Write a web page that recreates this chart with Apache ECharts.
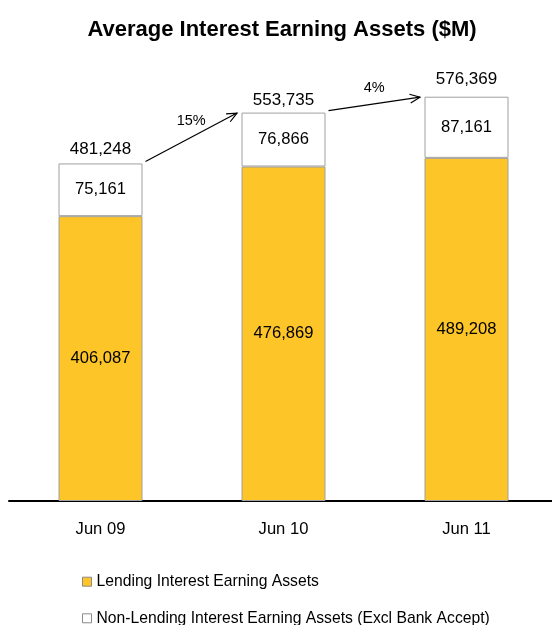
<!DOCTYPE html>
<html>
<head>
<meta charset="utf-8">
<script src="https://cdn.jsdelivr.net/npm/echarts@6/dist/echarts.min.js"></script>
<style>html,body{margin:0;padding:0;background:#fff;}#c{width:552px;height:625px;}</style>
</head>
<body>
<div id="c"></div>
<script>
var categories = ['Jun 09', 'Jun 10', 'Jun 11'];
var lendingValues = [406087, 476869, 489208];
var nonLendingValues = [75161, 76866, 87161];
var growthLabels = ['15%', '4%'];
var seriesNames = ['Lending Interest Earning Assets', 'Non-Lending Interest Earning Assets (Excl Bank Accept)'];

var totals = lendingValues.map(function (v, i) { return v + nonLendingValues[i]; });
var FONT = '"Liberation Sans", Arial, sans-serif';
var BAR_W = 84;
var totalLabelGap = [6, 4, 9];

function fmt(v) { return v.toLocaleString('en-US'); }

function legendBox(name, color, top) {
  return {
    orient: 'horizontal', left: 82, top: top, padding: 0,
    itemWidth: 9, itemHeight: 9, icon: 'rect',
    textStyle: { fontFamily: FONT, fontSize: 15.7, lineHeight: 16, color: '#000' },
    data: [{ name: name, itemStyle: { color: color, borderColor: '#8a8a8a', borderWidth: 1 } }]
  };
}

var chart = echarts.init(document.getElementById('c'));
chart.setOption({
  animation: false,
  backgroundColor: '#ffffff',
  title: {
    text: 'Average Interest Earning Assets ($M)',
    left: 282, top: 19, textAlign: 'center', padding: 0,
    textStyle: { fontFamily: FONT, fontSize: 22, fontWeight: 'bold', color: '#000' }
  },
  legend: [
    legendBox(seriesNames[0], '#FDC527', 573.7),
    legendBox(seriesNames[1], '#ffffff', 610.3)
  ],
  grid: { left: 9, top: 10, width: 549, height: 491, containLabel: false, outerBoundsMode: 'none' },
  xAxis: {
    type: 'category', data: categories,
    axisLine: { lineStyle: { color: '#000', width: 2 } },
    axisTick: { show: false },
    axisLabel: { margin: 20, fontFamily: FONT, fontSize: 16.6, color: '#000' }
  },
  yAxis: { type: 'value', min: 0, max: 700000, show: false, splitLine: { show: false } },
  series: [
    {
      name: seriesNames[0], type: 'bar', stack: 's', barWidth: BAR_W, data: lendingValues,
      itemStyle: { color: '#FDC527', borderColor: '#a0a0a0', borderWidth: 1 },
      label: { show: true, position: 'inside', formatter: function (p) { return fmt(p.value); },
        fontFamily: FONT, fontSize: 16.6, color: '#000' }
    },
    {
      name: seriesNames[1], type: 'bar', stack: 's', barWidth: BAR_W, data: nonLendingValues,
      itemStyle: { color: '#ffffff', borderColor: '#a0a0a0', borderWidth: 1 },
      label: { show: true, position: 'inside', formatter: function (p) { return fmt(p.value); },
        fontFamily: FONT, fontSize: 16.6, color: '#000' }
    },
    {
      name: 'totals', type: 'bar', stack: 's', barWidth: BAR_W,
      data: totals.map(function (t, i) { return { value: 0, label: { distance: totalLabelGap[i] } }; }),
      itemStyle: { color: 'transparent' },
      label: { show: true, position: 'top',
        formatter: function (p) { return fmt(totals[p.dataIndex]); },
        fontFamily: FONT, fontSize: 17, color: '#000' }
    }
  ]
});

// arrows between bar tops
var graphics = [];
for (var i = 0; i < categories.length - 1; i++) {
  var a = chart.convertToPixel({ gridIndex: 0 }, [i, totals[i]]);
  var b = chart.convertToPixel({ gridIndex: 0 }, [i + 1, totals[i + 1]]);
  var x1 = a[0] + BAR_W / 2 + 3, y1 = a[1] - 2;
  var x2 = b[0] - BAR_W / 2 - 4.5, y2 = b[1] + 0.5;
  var ang = Math.atan2(y2 - y1, x2 - x1);
  var hl = 11, ha = 0.42;
  graphics.push({ type: 'line', shape: { x1: x1, y1: y1, x2: x2, y2: y2 }, style: { stroke: '#000', lineWidth: 1.2 } });
  graphics.push({ type: 'polyline', shape: { points: [
    [x2 - hl * Math.cos(ang - ha), y2 - hl * Math.sin(ang - ha)],
    [x2, y2],
    [x2 - hl * Math.cos(ang + ha), y2 - hl * Math.sin(ang + ha)]
  ] }, style: { stroke: '#000', lineWidth: 1.2, fill: null } });
  graphics.push({ type: 'text', x: (x1 + x2) / 2, y: (y1 + y2) / 2 - 16,
    style: { text: growthLabels[i], font: '14.5px ' + FONT, fill: '#000', textAlign: 'center', textVerticalAlign: 'middle' } });
}
chart.setOption({ graphic: graphics });
</script>
</body>
</html>
